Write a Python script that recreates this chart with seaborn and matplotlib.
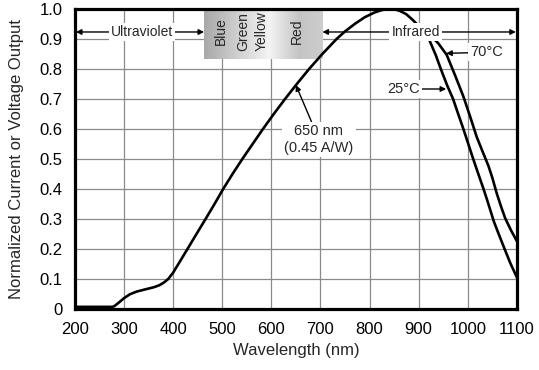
import numpy as np
import pandas as pd
import matplotlib
matplotlib.use("Agg")
import matplotlib.pyplot as plt
from matplotlib.colors import LinearSegmentedColormap
import seaborn as sns

# spectral response, shared part (nm, normalized output)
wl_common = [200, 276, 280, 290, 300, 312, 326, 345, 360, 372, 382, 390, 400, 410, 420,
             430, 445, 465, 484, 502, 521, 541, 562, 583, 605, 628, 652, 677, 704, 733,
             750, 770, 790, 810, 825, 838, 850, 862, 875, 888, 900, 912]
v_common = [0.007, 0.007, 0.009, 0.022, 0.036, 0.049, 0.058, 0.066, 0.072, 0.079, 0.089,
            0.1, 0.121, 0.148, 0.175, 0.202, 0.243, 0.297, 0.349, 0.4, 0.45, 0.5, 0.55,
            0.6, 0.65, 0.7, 0.75, 0.8, 0.85, 0.9, 0.925, 0.95, 0.972, 0.988, 0.996, 1.0,
            0.999, 0.993, 0.982, 0.963, 0.943, 0.925]

# infrared fall-off at the two temperatures
wl_25 = [912, 922, 935, 945, 958, 970, 980, 991, 1001, 1011, 1021, 1032, 1040, 1048,
         1053, 1060, 1072, 1086, 1100]
v_25 = [0.925, 0.895, 0.845, 0.8, 0.745, 0.7, 0.652, 0.6, 0.55, 0.5, 0.452, 0.4, 0.36,
        0.318, 0.292, 0.262, 0.212, 0.155, 0.105]
wl_70 = [912, 925, 940, 957, 975, 991, 1005, 1018, 1030, 1042, 1050, 1059, 1068, 1076,
         1088, 1100]
v_70 = [0.925, 0.91, 0.885, 0.847, 0.775, 0.708, 0.64, 0.574, 0.525, 0.477, 0.437, 0.385,
        0.34, 0.303, 0.262, 0.226]

x_ticks = [200, 300, 400, 500, 600, 700, 800, 900, 1000, 1100]
y_ticks = [0, 0.1, 0.2, 0.3, 0.4, 0.5, 0.6, 0.7, 0.8, 0.9, 1.0]
y_tick_labels = ["0", "0.1", "0.2", "0.3", "0.4", "0.5", "0.6", "0.7", "0.8", "0.9", "1.0"]

visible_colors = ["Blue", "Green", "Yellow", "Red"]
visible_pos = [498, 542, 581, 652]
visible_band = (463, 704)

sns.set_style("white")
plt.rcParams['font.family'] = ['Liberation Sans', 'DejaVu Sans']

df = pd.concat([
    pd.DataFrame({'wl': wl_common, 'v': v_common, 'part': 'common'}),
    pd.DataFrame({'wl': wl_25, 'v': v_25, 'part': '25'}),
    pd.DataFrame({'wl': wl_70, 'v': v_70, 'part': '70'}),
])

fig = plt.figure(figsize=(5.39, 3.70), dpi=100)
ax = fig.add_axes([0.139, 0.165, 0.82, 0.811])

for part in ['common', '25', '70']:
    sns.lineplot(data=df[df.part == part], x='wl', y='v', ax=ax, color='black',
                 lw=1.9, sort=False, zorder=4, legend=False)

ax.set_xlim(200, 1100)
ax.set_ylim(0, 1.0)
ax.set_xticks(x_ticks)
ax.set_yticks(y_ticks)
ax.set_yticklabels(y_tick_labels)
ax.tick_params(length=0, labelsize=12, colors='black')
ax.tick_params(axis='x', pad=9.5)
ax.tick_params(axis='y', pad=9)
ax.grid(True, color='#8a8a8a', lw=0.9)
ax.set_axisbelow(True)
for s in ax.spines.values():
    s.set_linewidth(2.3)
    s.set_color('black')
ax.set_xlabel("Wavelength (nm)", fontsize=12, labelpad=4)
ax.set_ylabel("Normalized Current or Voltage Output", fontsize=12, labelpad=11)

# visible band shading
cmap = LinearSegmentedColormap.from_list('band', [(0, '#a8a8a8'), (0.3, '#d2d2d2'),
                                                  (0.55, '#f4f4f4'), (0.8, '#c4c4c4'),
                                                  (1.0, '#cdcdcd')])
grad = np.linspace(0, 1, 256).reshape(1, -1)
ax.imshow(grad, cmap=cmap, extent=[visible_band[0], visible_band[1], 0.833, 0.994],
          aspect='auto', zorder=2)
for name, x in zip(visible_colors, visible_pos):
    ax.text(x, 0.925, name, rotation=90, ha='center', va='center', fontsize=10, zorder=3)

arrow = dict(arrowstyle='<|-|>', color='black', lw=1.0, mutation_scale=8, shrinkA=0, shrinkB=0)
ax.annotate("", xy=(202, 0.923), xytext=(visible_band[0], 0.923), arrowprops=arrow, zorder=3)
ax.annotate("", xy=(visible_band[1], 0.923), xytext=(1098, 0.923), arrowprops=arrow, zorder=3)
box = dict(facecolor='white', edgecolor='none', pad=1.5)
ax.text(336, 0.923, "Ultraviolet", ha='center', va='center', fontsize=10, bbox=box, zorder=5)
ax.text(894, 0.923, "Infrared", ha='center', va='center', fontsize=10, bbox=box, zorder=5)

one = dict(arrowstyle='-|>', color='black', lw=1.0, mutation_scale=8, shrinkA=0, shrinkB=0)
ax.annotate("650 nm\n(0.45 A/W)", xy=(650, 0.746), xytext=(697, 0.565), ha='center',
            va='center', fontsize=10.5, bbox=box, arrowprops=one, zorder=5,
            linespacing=1.3)
ax.annotate("70°C", xy=(956, 0.852), xytext=(1005, 0.855), ha='left', va='center',
            fontsize=10.5, bbox=box, arrowprops=one, zorder=5)
ax.annotate("25°C", xy=(956, 0.733), xytext=(903, 0.733), ha='right', va='center',
            fontsize=10.5, bbox=box, arrowprops=one, zorder=5)

fig.savefig("out.png", dpi=100)
